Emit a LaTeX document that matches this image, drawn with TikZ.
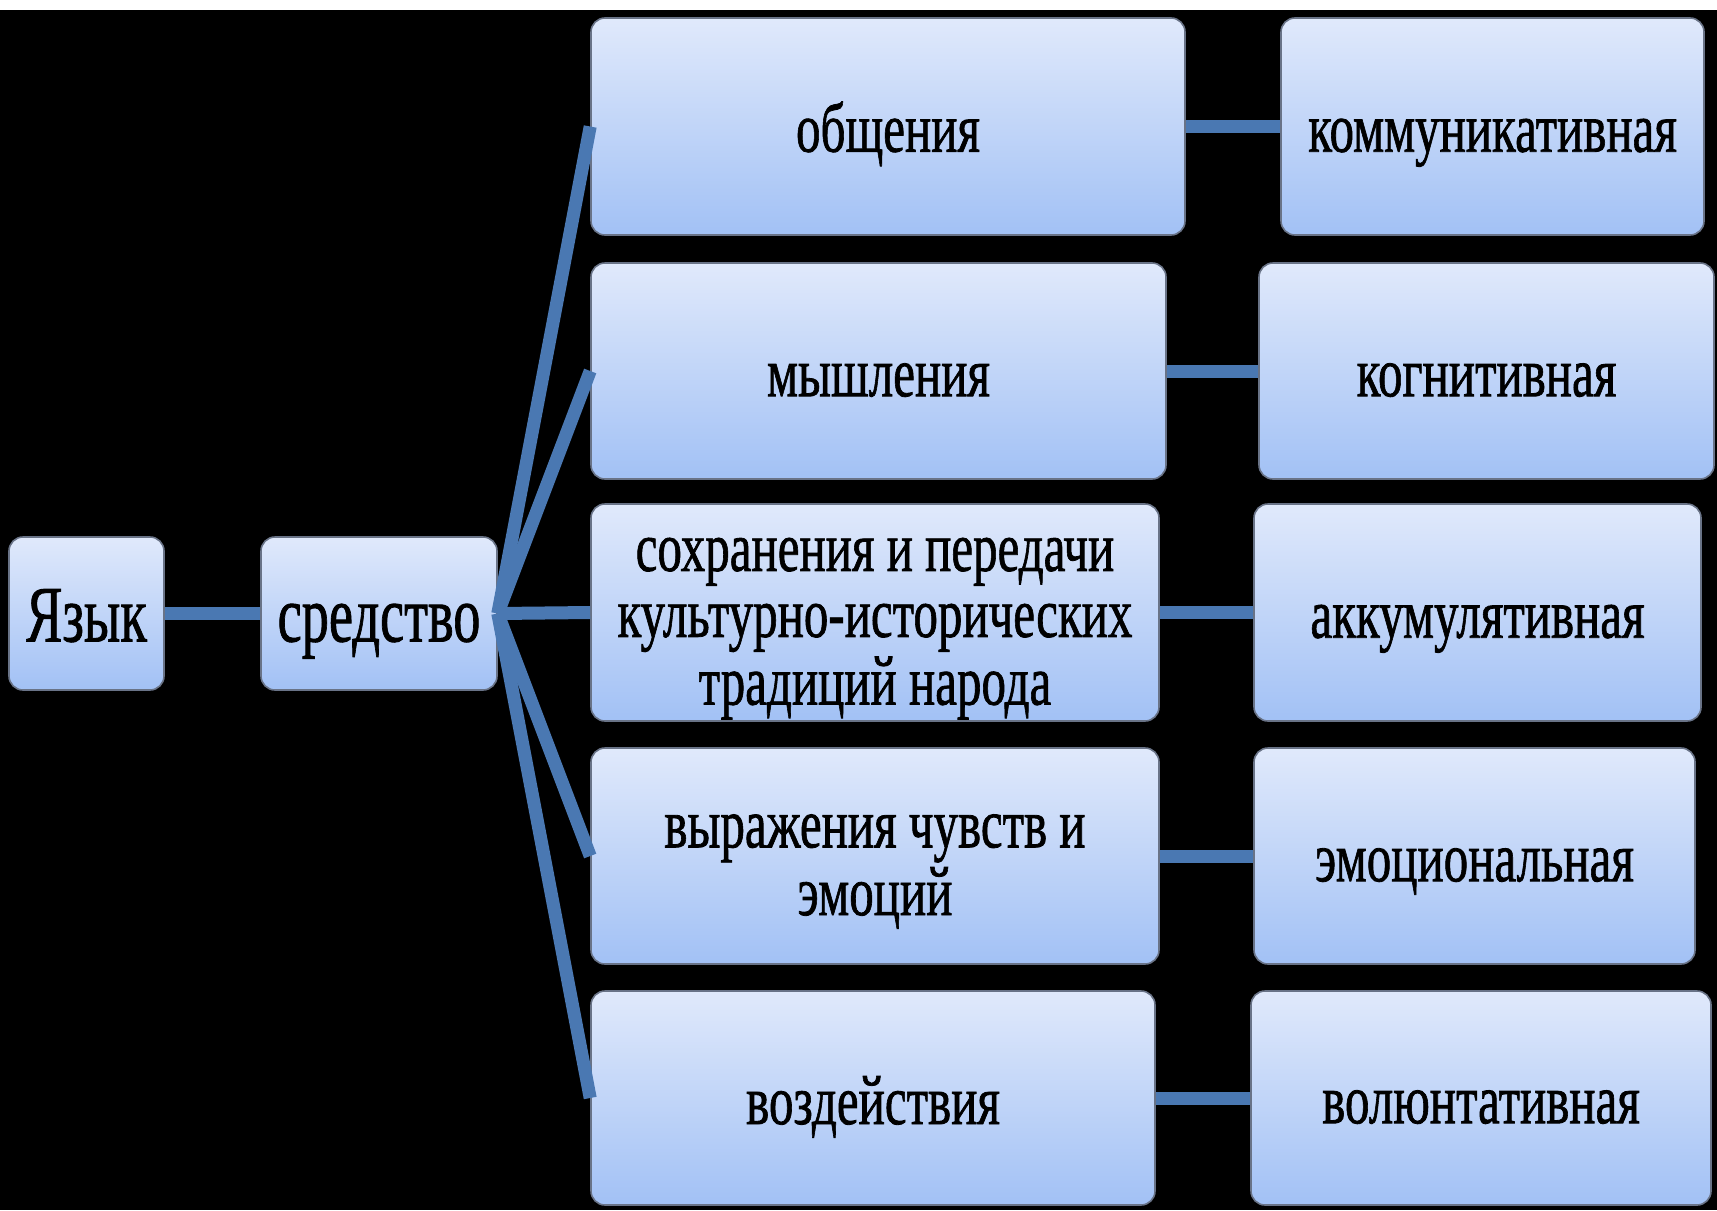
\documentclass[tikz,border=0pt]{standalone}
\usepackage{fontspec}
\usepackage{graphicx}
\setmainfont{Liberation Serif}[RawFeature={embolden=1.2}]
\newcommand{\sqtext}[2]{\raisebox{-6pt}[\height][\depth]{\scalebox{#1}[1]{\begin{tabular}{@{}c@{}}#2\end{tabular}}}}
\newcommand{\mtx}[1]{\sqtext{0.70}{#1}}
\newcommand{\ltx}[1]{\sqtext{0.68}{#1}}
\definecolor{linkc}{RGB}{74,120,178}
\definecolor{boxtop}{RGB}{224,233,251}
\definecolor{boxbot}{RGB}{162,193,245}
\definecolor{boxedge}{RGB}{105,115,135}
\begin{document}
\begin{tikzpicture}[x=0.5pt,y=-0.5pt,
 box/.style={rounded corners=7pt, top color=boxtop, bottom color=boxbot, draw=boxedge, line width=0.8pt, inner sep=0pt, align=center, font=\fontsize{35pt}{33pt}\selectfont, text=black},
 bigbox/.style={box, font=\fontsize{40pt}{40pt}\selectfont},
 link/.style={draw=linkc, line width=6.5pt}]
\useasboundingbox (0,0) rectangle (1717,1210);
\fill[black] (0,0) rectangle (1717,1210);
\fill[white] (0,0) rectangle (1717,10);

\node[bigbox, minimum width=77.5pt, minimum height=76.5pt] (lang) at (86.5,613.5) {\ltx{Язык}};
\node[bigbox, minimum width=118pt, minimum height=76.5pt] (sr) at (379,613.5) {\ltx{средство}};

\node[box, minimum width=297pt, minimum height=108.5pt] (m1) at (888,126.5) {\sqtext{0.70}{\raisebox{2pt}{общения}}};
\node[box, minimum width=287.5pt, minimum height=108pt] (m2) at (878.5,371) {\mtx{мышления}};
\node[box, minimum width=284pt, minimum height=108.5pt] (m3) at (875,612.5) {\mtx{сохранения и передачи\\культурно-исторических\\традиций народа}};
\node[box, minimum width=284pt, minimum height=108pt] (m4) at (875,856) {\mtx{выражения чувств и\\эмоций}};
\node[box, minimum width=282pt, minimum height=107pt] (m5) at (873,1098) {\mtx{воздействия}};

\node[box, minimum width=211.5pt, minimum height=108.5pt] (q1) at (1492.5,126.5) {\mtx{коммуникативная}};
\node[box, minimum width=227.5pt, minimum height=108pt] (q2) at (1486.5,371) {\mtx{когнитивная}};
\node[box, minimum width=223.5pt, minimum height=108.5pt] (q3) at (1477.5,612.5) {\mtx{аккумулятивная}};
\node[box, minimum width=220.5pt, minimum height=108pt] (q4) at (1474.5,856) {\mtx{эмоциональная}};
\node[box, minimum width=230pt, minimum height=107pt] (q5) at (1481,1098) {\mtx{волюнтативная}};

\draw[link] (lang.east) -- (sr.west);
\foreach \m in {m1,m2,m3,m4,m5}{\draw[link] (sr.east) -- (\m.west);}
\draw[link] (m1.east) -- (q1.west);
\draw[link] (m2.east) -- (q2.west);
\draw[link] (m3.east) -- (q3.west);
\draw[link] (m4.east) -- (q4.west);
\draw[link] (m5.east) -- (q5.west);
\end{tikzpicture}
\end{document}
